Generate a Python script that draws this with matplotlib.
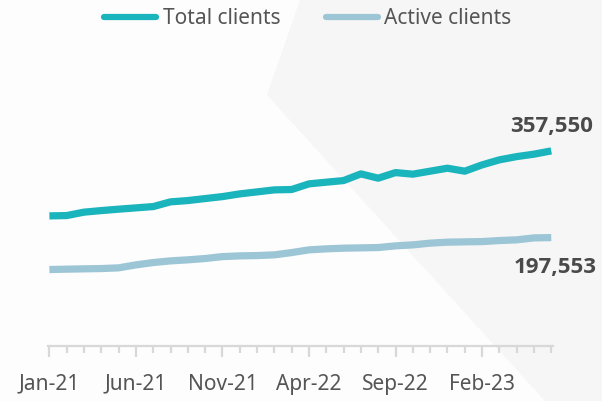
import numpy as np
import matplotlib.pyplot as plt
from matplotlib.patches import Polygon

plt.rcParams['font.family'] = ['Noto Sans', 'DejaVu Sans']

months = ['Jan-21', 'Feb-21', 'Mar-21', 'Apr-21', 'May-21', 'Jun-21', 'Jul-21', 'Aug-21',
          'Sep-21', 'Oct-21', 'Nov-21', 'Dec-21', 'Jan-22', 'Feb-22', 'Mar-22', 'Apr-22',
          'May-22', 'Jun-22', 'Jul-22', 'Aug-22', 'Sep-22', 'Oct-22', 'Nov-22', 'Dec-22',
          'Jan-23', 'Feb-23', 'Mar-23', 'Apr-23', 'May-23', 'Jun-23']

total_clients = [237600, 238200, 244500, 247400, 250000, 252400, 254800, 263500,
                 265900, 269600, 273200, 278200, 281900, 285600, 286300, 296700,
                 299800, 302800, 315100, 307200, 317500, 314600, 320100, 325600,
                 320100, 331700, 341000, 347000, 351500, 357550]

active_clients = [138600, 139300, 139900, 140400, 141700, 147200, 151500, 154600,
                  156500, 158900, 162500, 163800, 164400, 165700, 169900, 174900,
                  176800, 178000, 178600, 179200, 182300, 184100, 187300, 189100,
                  189700, 190200, 192100, 193400, 197000, 197553]

total_color = '#1ab4bc'
active_color = '#9cc5d5'
text_color = '#555555'

fig = plt.figure(figsize=(6.02, 4.01), dpi=100)
fig.patch.set_facecolor('#fdfdfd')

# faint grey shape in the background, on its own axes underneath
bg_ax = fig.add_axes([0, 0, 1, 1], zorder=0)
bg_ax.set_xlim(0, 602)
bg_ax.set_ylim(401, 0)
bg_ax.axis('off')
bg_ax.add_patch(Polygon([(300, 0), (602, 0), (602, 401), (545, 401), (267, 95)],
                        closed=True, facecolor='#f6f6f6', edgecolor='none'))

ax = fig.add_axes([48 / 602, 55 / 401, 505 / 602, 346 / 401], zorder=1)
ax.set_facecolor('none')

x = np.arange(len(months))
l1, = ax.plot(x, total_clients, color=total_color, lw=5.2,
              solid_capstyle='butt', solid_joinstyle='round', label='Total clients')
l2, = ax.plot(x, active_clients, color=active_color, lw=5.2,
              solid_capstyle='butt', solid_joinstyle='round', label='Active clients')

ax.set_xlim(-0.08, 29.1)
ax.set_ylim(-2500, 636000)

for s in ['top', 'right', 'left']:
    ax.spines[s].set_visible(False)
ax.spines['bottom'].set_color('#d8d8d8')
ax.spines['bottom'].set_linewidth(1.6)
ax.set_yticks([])

ax.set_xticks(x, minor=True)
ax.set_xticks(x[::5])
ax.set_xticklabels(months[::5], fontsize=15, color=text_color)
ax.tick_params(axis='x', which='minor', length=5, width=1.6, color='#d8d8d8')
ax.tick_params(axis='x', which='major', length=8, width=1.6, color='#d8d8d8', pad=12)

bold_family = ['Open Sans', 'DejaVu Sans']
ax.annotate(f'{total_clients[-1]:,}', xy=(1 - 9 / 602, 1 - 127 / 401), xycoords='figure fraction',
            ha='right', va='center', fontsize=16, fontweight='bold', color='#4a4a4a',
            family=bold_family)
ax.annotate(f'{active_clients[-1]:,}', xy=(1 - 5 / 602, 1 - 267 / 401), xycoords='figure fraction',
            ha='right', va='center', fontsize=16, fontweight='bold', color='#4a4a4a',
            family=bold_family)

leg = ax.legend(handles=[l1, l2], loc='center', bbox_to_anchor=(308 / 602, 1 - 19 / 401),
                bbox_transform=fig.transFigure,
                ncol=2, frameon=False, fontsize=15, handlelength=2.5, handletextpad=0.3,
                columnspacing=2.2, labelcolor=text_color)
for h in leg.get_lines():
    h.set_linewidth(4.5)
    h.set_solid_capstyle('round')

fig.savefig('out.png', dpi=100, facecolor=fig.get_facecolor())
